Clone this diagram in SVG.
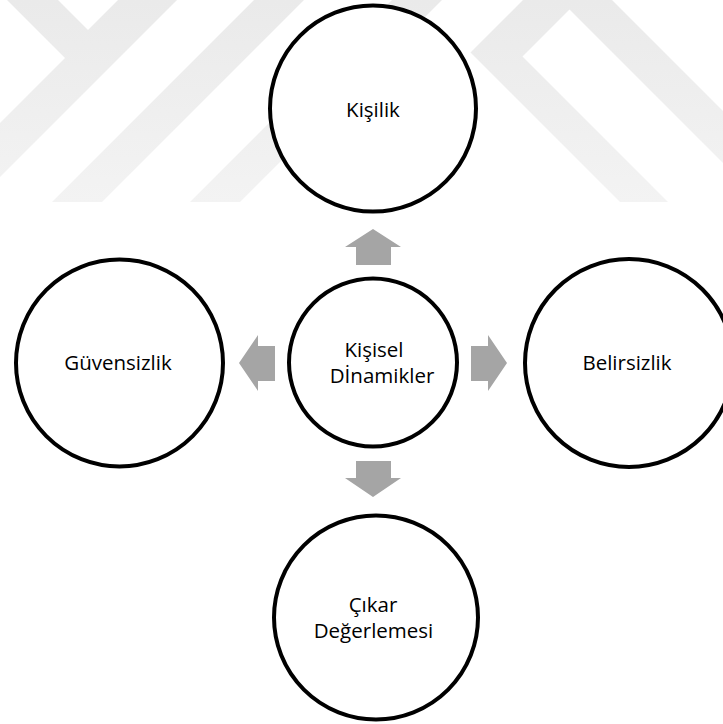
<svg xmlns="http://www.w3.org/2000/svg" width="723" height="724" viewBox="0 0 723 724">
  <defs>
    <linearGradient id="wm" x1="0" y1="0" x2="0" y2="203" gradientUnits="userSpaceOnUse">
      <stop offset="0" stop-color="#eaeaea"/>
      <stop offset="1" stop-color="#f3f3f3"/>
    </linearGradient>
    <style>
      .node { fill: #ffffff; stroke: #000000; stroke-width: 4; }
      .label { font-family: "Open Sans", "Noto Sans", "Liberation Sans", sans-serif; font-size: 20.5px; fill: #000000; text-anchor: middle; }
      .arrow { fill: #a5a5a5; stroke: none; }
      .wm { fill: url(#wm); }
    </style>
  </defs>

  <rect x="0" y="0" width="723" height="724" fill="#ffffff"/>

  <!-- background watermark bands -->
  <g id="watermark">
    <polygon class="wm" points="7,0 58,0 88,30 118,0 177,0 0,177 0,123 65,58"/>
    <polygon class="wm" points="254,0 304,0 102,202 52,202"/>
    <polygon class="wm" points="392,0 442,0 240,202 190,202"/>
    <polygon class="wm" points="620,202 470.5,52.5 523,0 612,0 723,111 723,163 569.5,9.5 522.5,56.5 668,202"/>
  </g>

  <!-- block arrows from the centre -->
  <g id="connectors">
    <polygon class="arrow" points="373,229 401,247 391,247 391,265 356,265 356,247 345,247"/>
    <polygon class="arrow" points="373,497 401,478 391,478 391,461 356,461 356,478 345,478"/>
    <polygon class="arrow" points="239,363 258,335 258,346 275,346 275,381 258,381 258,391"/>
    <polygon class="arrow" points="507,363 488,335 488,346 471,346 471,381 488,381 488,391"/>
  </g>

  <g id="kisilik">
    <circle class="node" cx="373" cy="108.5" r="103"/>
    <text class="label" x="373" y="117">Kişilik</text>
  </g>

  <g id="guvensizlik">
    <circle class="node" cx="119.5" cy="363" r="103.5"/>
    <text class="label" x="118" y="370">Güvensizlik</text>
  </g>

  <g id="belirsizlik">
    <circle class="node" cx="629" cy="363" r="104"/>
    <text class="label" x="627" y="370">Belirsizlik</text>
  </g>

  <g id="kisisel-dinamikler">
    <circle class="node" cx="373" cy="362.5" r="84"/>
    <text class="label" x="374" y="357">Kişisel</text>
    <text class="label" x="382" y="383">Dİnamikler</text>
  </g>

  <g id="cikar-degerlemesi">
    <circle class="node" cx="376" cy="617.5" r="102"/>
    <text class="label" x="373" y="612">Çıkar</text>
    <text class="label" x="373.5" y="638">Değerlemesi</text>
  </g>
</svg>
